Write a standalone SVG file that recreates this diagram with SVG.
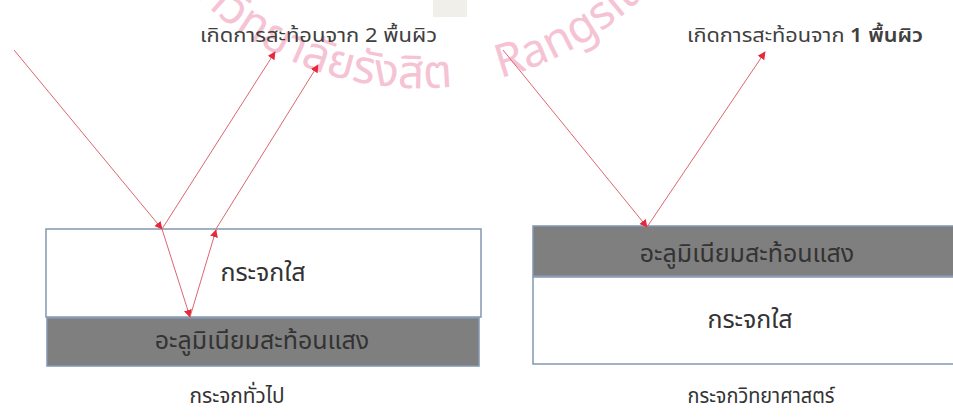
<svg xmlns="http://www.w3.org/2000/svg" width="953" height="417" viewBox="0 0 953 417">
<style>
.th{font-family:"Noto Sans Thai","Noto Sans","DejaVu Sans",sans-serif;fill:#404040}
.lbl{font-size:19px}
.box{font-size:25px;text-anchor:middle;fill:#333}
.cap{font-size:22px;text-anchor:middle;fill:#333}
.glass{fill:#ffffff;stroke:#8497b0;stroke-width:1.5}
.alu{fill:#7f7f7f;stroke:#8497b0;stroke-width:1.5}
.ray{stroke:#dc6670;stroke-width:1;fill:none;marker-end:url(#ah)}
.wm{font-family:"Noto Sans Thai","Noto Sans","DejaVu Sans",sans-serif;font-size:46px;fill:#f5c3d3}
</style>
<defs>
<marker id="ah" viewBox="0 0 10 10" refX="9" refY="5" markerWidth="8" markerHeight="8" markerUnits="userSpaceOnUse" orient="auto">
<path d="M0,0 L10,5 L0,10 z" fill="#e8283a"/>
</marker>
<path id="wmArc" d="M106.8,-174.8 A318,318 0 0 0 733.2,-174.8"/>
</defs>
<rect width="953" height="417" fill="#ffffff"/>
<g id="watermark">
<rect x="433" y="0" width="34" height="17" fill="#f1efea"/>
<text class="wm"><textPath href="#wmArc" startOffset="477" text-anchor="end">มหาวิทยาลัยรังสิต</textPath></text>
<text class="wm"><textPath href="#wmArc" startOffset="525">Rangsit University</textPath></text>
</g>
<g id="node-left-glass">
<rect class="glass" x="46" y="229" width="435" height="88"/>
<text class="th box" x="263" y="281">กระจกใส</text>
</g>
<g id="node-left-alu">
<rect class="alu" x="47" y="318" width="432" height="48"/>
<text class="th box" x="262" y="349">อะลูมิเนียมสะท้อนแสง</text>
</g>
<g id="node-right-alu">
<rect class="alu" x="533" y="226" width="425" height="50"/>
<text class="th box" x="747" y="262">อะลูมิเนียมสะท้อนแสง</text>
</g>
<g id="node-right-glass">
<rect class="glass" x="533" y="277" width="425" height="87"/>
<text class="th box" x="750" y="328">กระจกใส</text>
</g>
<g id="labels">
<text class="th lbl" x="200" y="42" textLength="237" lengthAdjust="spacingAndGlyphs">เกิดการสะท้อนจาก 2 พื้นผิว</text>
<text class="th lbl" x="687" y="42" textLength="236" lengthAdjust="spacingAndGlyphs">เกิดการสะท้อนจาก <tspan font-weight="600">1 พื้นผิว</tspan></text>
<text class="th cap" x="237" y="403" textLength="95" lengthAdjust="spacingAndGlyphs">กระจกทั่วไป</text>
<text class="th cap" x="761" y="403" textLength="147" lengthAdjust="spacingAndGlyphs">กระจกวิทยาศาสตร์</text>
</g>
<g id="connectors">
<line class="ray" x1="14" y1="50" x2="162" y2="229"/>
<line class="ray" x1="162" y1="229" x2="190" y2="317"/>
<line class="ray" x1="190" y1="317" x2="216" y2="230"/>
<line class="ray" x1="162" y1="229" x2="275" y2="52"/>
<line class="ray" x1="216" y1="229" x2="318" y2="65"/>
<line class="ray" x1="503" y1="50" x2="647" y2="227"/>
<line class="ray" x1="647" y1="227" x2="765" y2="52"/>
</g>
</svg>
